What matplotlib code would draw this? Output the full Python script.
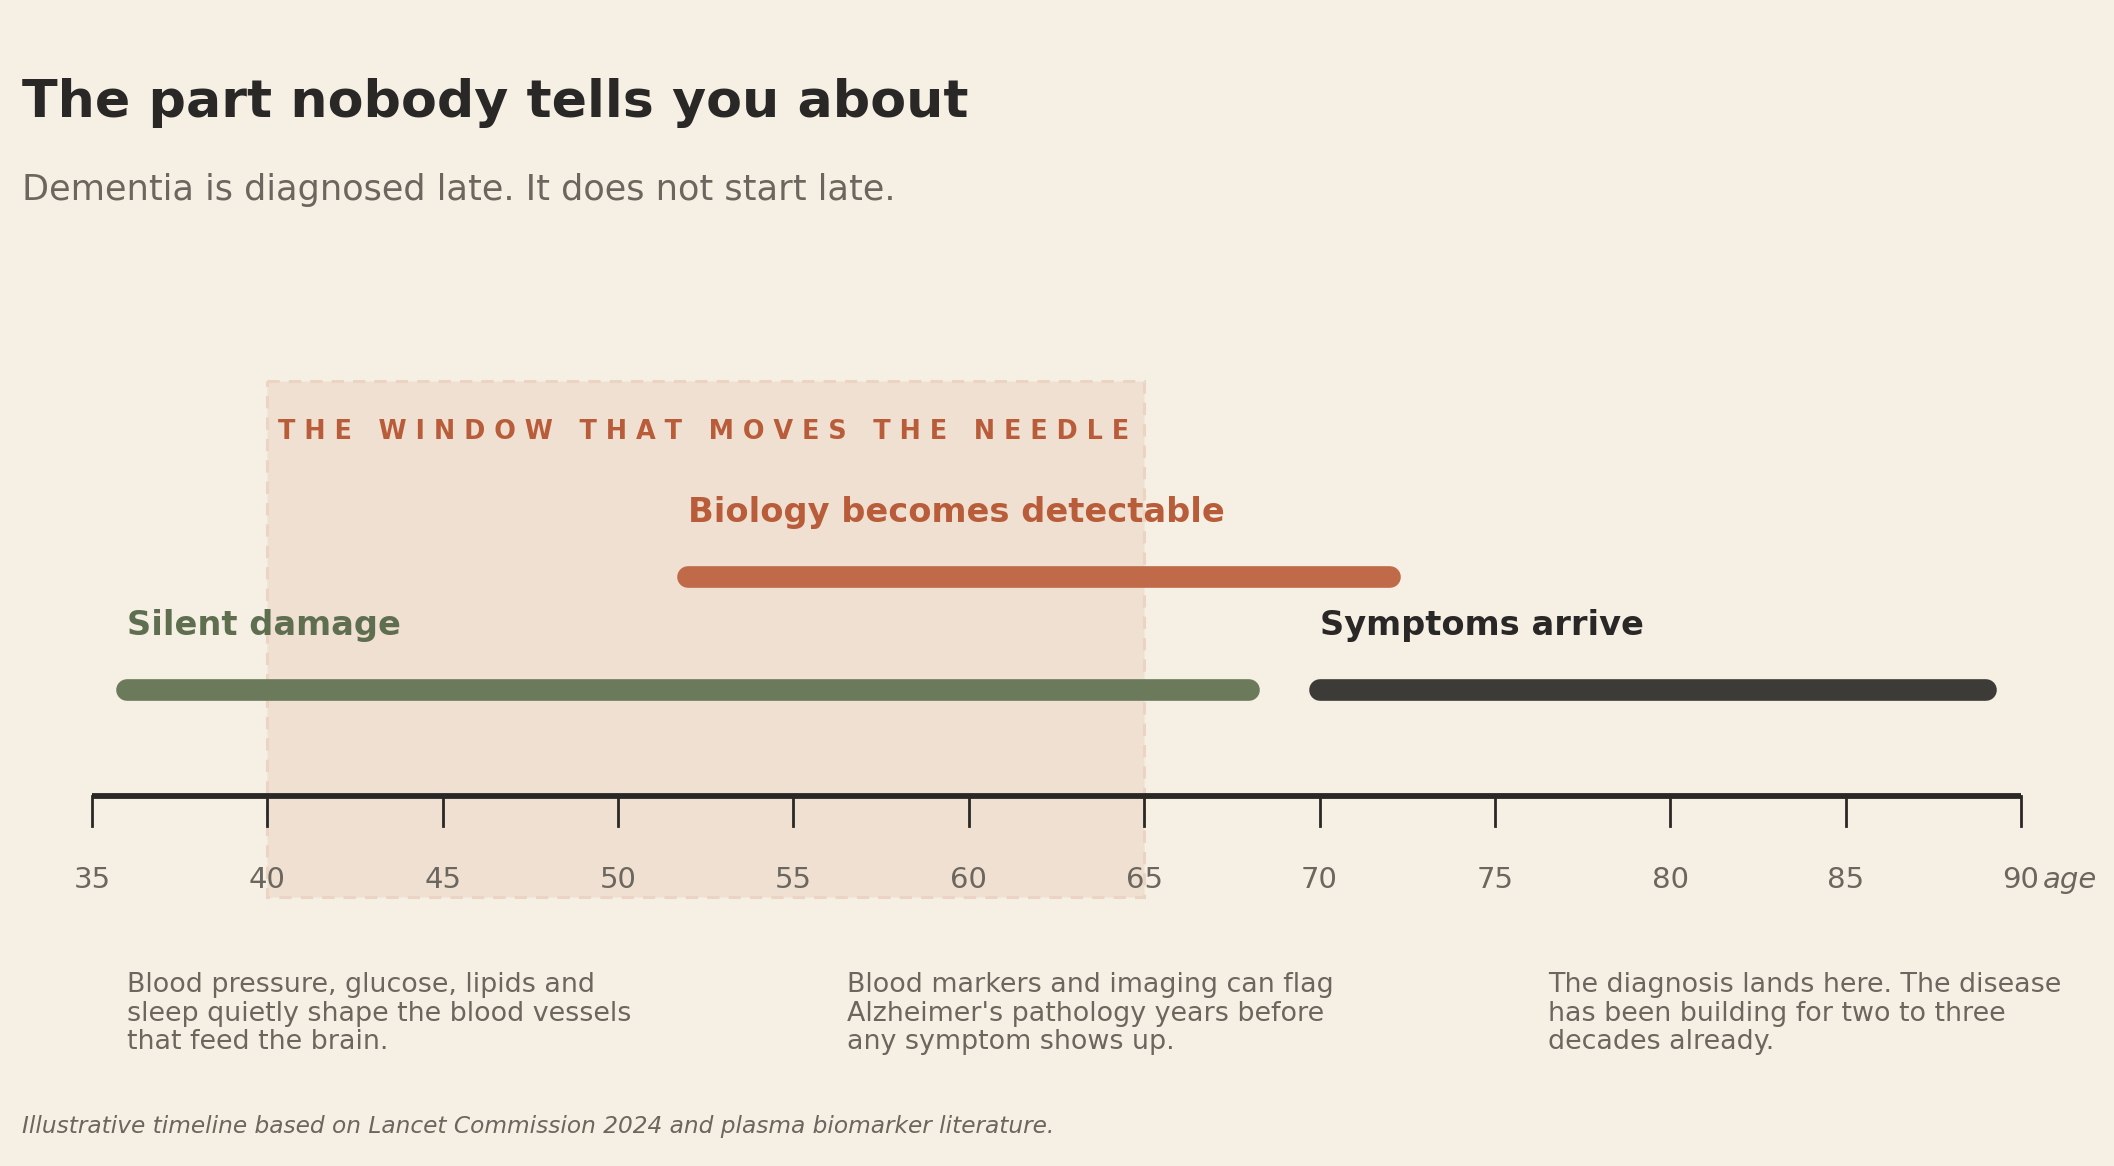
import matplotlib.pyplot as plt

# colours
BG = "#f5efe4"
INK = "#2a2826"
GREY = "#6b665e"
GREEN = "#6b7a5b"
ORANGE = "#c06a4a"
ORANGE_TXT = "#b95c3a"
DARK = "#3c3b37"
WINDOW = "#efe0d2"

# data
stages = ["Silent damage", "Biology becomes detectable", "Symptoms arrive"]
stage_start = [36, 52, 70]
stage_end = [68, 72, 89]
stage_row = [690, 577, 690]          # vertical position (px from top)
stage_color = [GREEN, ORANGE, DARK]
label_color = ["#5f6e4f", ORANGE_TXT, INK]

window_start, window_end = 40, 65
window_label = "THE WINDOW THAT MOVES THE NEEDLE"

ticks = list(range(35, 95, 5))

notes = [
    "Blood pressure, glucose, lipids and\nsleep quietly shape the blood vessels\nthat feed the brain.",
    "Blood markers and imaging can flag\nAlzheimer's pathology years before\nany symptom shows up.",
    "The diagnosis lands here. The disease\nhas been building for two to three\ndecades already.",
]
note_x = [127, 847, 1548]  # px

W, H = 2114, 1166
fig = plt.figure(figsize=(W / 200, H / 200), dpi=200, facecolor=BG)
ax = fig.add_axes([0, 0, 1, 1])
ax.set_facecolor(BG)

pxyr = (2021 - 92) / 55
x0 = 35 - 92 / pxyr
ax.set_xlim(x0, x0 + W / pxyr)
ax.set_ylim(H, 0)
ax.axis("off")

# the window
ax.add_patch(plt.Rectangle((window_start, 381), window_end - window_start, 897 - 381,
                           facecolor=WINDOW, edgecolor="#ebd4c4", lw=1.1,
                           ls=(0, (4, 3)), zorder=1))
spaced = "   ".join(" ".join(w) for w in window_label.split())
ax.text(window_start + 0.31, 439, spaced, color=ORANGE_TXT, fontsize=9.2,
        fontweight="bold", va="baseline", ha="left", zorder=3)

# stage bars
for name, s, e, y, c, lc in zip(stages, stage_start, stage_end, stage_row, stage_color, label_color):
    ax.plot([s, e], [y, y], color=c, lw=7.8, solid_capstyle="round", zorder=2)
    ax.text(s, y - 55, name, color=lc, fontsize=12.1, fontweight="bold",
            va="baseline", ha="left", zorder=3)

# axis
ax.plot([35, 90], [796, 796], color=INK, lw=2.1, solid_capstyle="butt", zorder=4)
for t in ticks:
    ax.plot([t, t], [796, 826], color=INK, lw=1.0, zorder=4)
    ax.text(t, 888, str(t), color=GREY, fontsize=10.5, ha="center", va="baseline")
ax.text(90.63, 888, "age", color=GREY, fontsize=10.5, style="italic", ha="left", va="baseline")

# notes (baseline of the last line)
for txt, x in zip(notes, note_x):
    fig.text(x / W, 1 - 1049 / H, txt, color=GREY, fontsize=9.7, ha="left",
             va="baseline", linespacing=1.12)

# titles
fig.text(22 / W, 1 - 116.7 / H, "The part nobody tells you about", color=INK,
         fontsize=18.8, fontweight="bold", va="baseline")
fig.text(22 / W, 1 - 200 / H, "Dementia is diagnosed late. It does not start late.",
         color=GREY, fontsize=12.65, va="baseline")
fig.text(22 / W, 1 - 1133 / H,
         "Illustrative timeline based on Lancet Commission 2024 and plasma biomarker literature.",
         color=GREY, fontsize=8.4, style="italic", va="baseline")

fig.savefig("out.png", dpi=200, facecolor=BG)
